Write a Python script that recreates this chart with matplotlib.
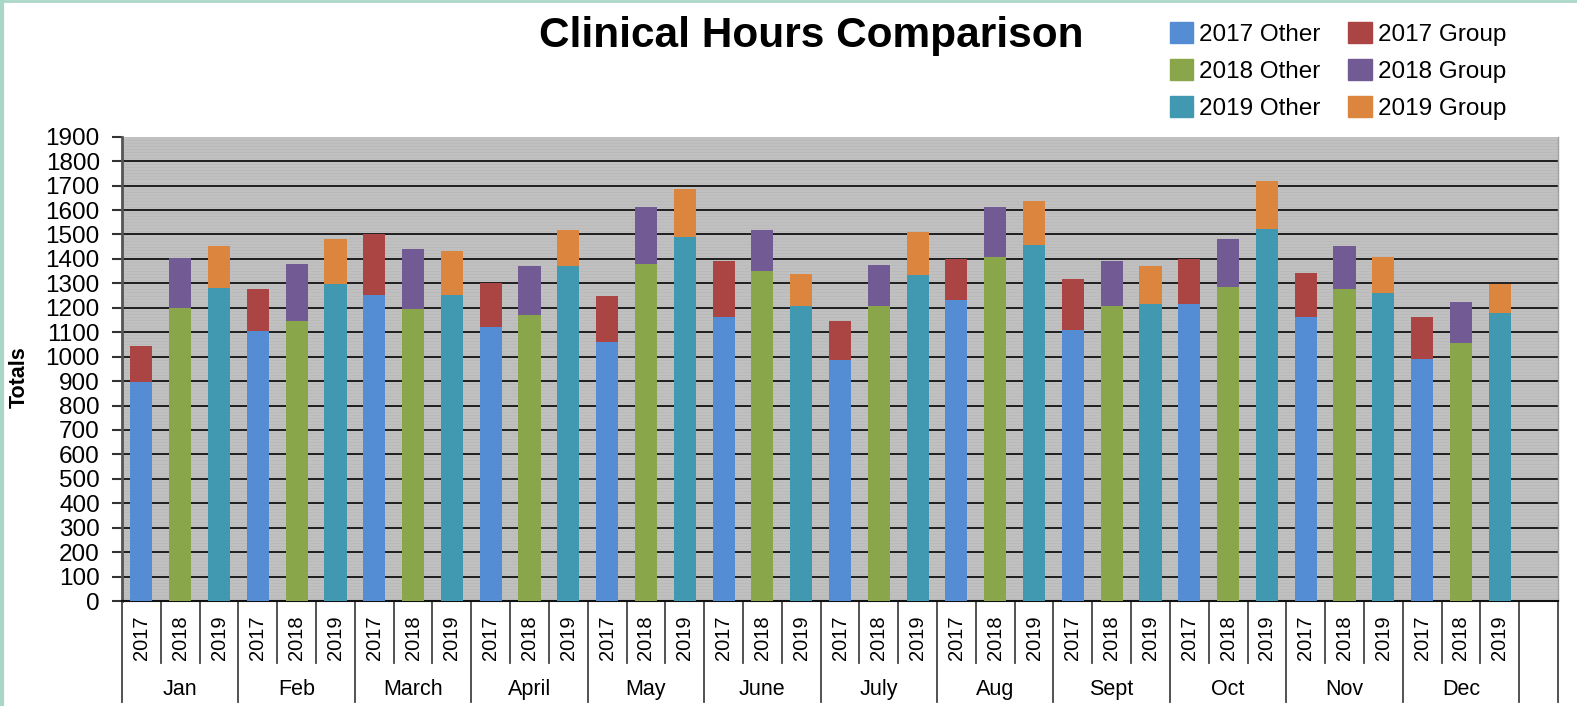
import matplotlib
matplotlib.use("Agg")
import matplotlib.pyplot as plt
from matplotlib.lines import Line2D
from matplotlib.patches import Patch
import numpy as np

plt.rcParams['font.family'] = ['Liberation Sans', 'DejaVu Sans']

months = ['Jan', 'Feb', 'March', 'April', 'May', 'June', 'July', 'Aug', 'Sept', 'Oct', 'Nov', 'Dec']
years = ['2017', '2018', '2019']

# "Other" hours per month, per year
other_2017 = [897, 1105, 1251, 1120, 1060, 1162, 986, 1230, 1110, 1214, 1162, 992]
other_2018 = [1200, 1147, 1194, 1169, 1378, 1349, 1208, 1406, 1208, 1284, 1276, 1055]
other_2019 = [1282, 1296, 1251, 1371, 1490, 1208, 1333, 1458, 1214, 1524, 1259, 1177]
# bar totals (other + group)
total_2017 = [1045, 1275, 1500, 1303, 1249, 1390, 1147, 1401, 1318, 1401, 1341, 1161]
total_2018 = [1402, 1379, 1439, 1371, 1613, 1518, 1376, 1613, 1390, 1480, 1451, 1222]
total_2019 = [1451, 1481, 1431, 1519, 1687, 1339, 1510, 1637, 1371, 1719, 1406, 1297]

other = [other_2017, other_2018, other_2019]
group = [list(np.array(t) - np.array(o)) for t, o in
         zip([total_2017, total_2018, total_2019], other)]

other_colors = ['#548dd4', '#8aa64b', '#4199b1']
group_colors = ['#aa4543', '#725a95', '#dc853e']

fig = plt.figure(figsize=(15.77, 7.06), dpi=100)
ax = fig.add_axes([122 / 1577, 105 / 706, (1558 - 122) / 1577, (601 - 136.7) / 706])
ax.set_facecolor('#c0c0c0')

nslots = 37
for yi in range(3):
    x = np.arange(12) * 3 + yi + 0.5
    ax.bar(x, other[yi], width=0.57, color=other_colors[yi], zorder=3)
    ax.bar(x, group[yi], width=0.57, bottom=other[yi], color=group_colors[yi], zorder=3)

ax.set_xlim(0, nslots)
ax.set_ylim(0, 1900)
ax.set_yticks(np.arange(0, 2000, 100))
ax.tick_params(axis='y', labelsize=17.5, length=7, width=1.5, pad=9, color='#333333')
ax.set_xticks([])

# background texture + grid
for v in np.arange(0, 1900, 12.5):
    ax.axhline(v, color='#b8b8b8', lw=0.5, zorder=1)
for v in np.arange(100, 1900, 100):
    ax.axhline(v, color='#1e1e1e', lw=1.4, zorder=2)

ax.spines['top'].set_visible(False)
ax.spines['left'].set_color('#555555')
ax.spines['left'].set_linewidth(2)
ax.spines['bottom'].set_color('#111111')
ax.spines['bottom'].set_linewidth(1.5)
ax.spines['right'].set_color('#a0a0a0')
ax.spines['right'].set_linewidth(1)

fig.text(19 / 1577, 1 - 377 / 706, 'Totals', rotation=90, ha='center', va='center',
         fontsize=15.5, fontweight='bold')

# category axis: years and months
tr = ax.get_xaxis_transform()
for i in range(nslots + 1):
    bottom = -0.218 if (i % 3 == 0 or i == nslots) else -0.1335
    ax.plot([i, i], [0, bottom], transform=tr, color='#444444', lw=1.3, clip_on=False)
for m in range(12):
    for yi in range(3):
        ax.text(m * 3 + yi + 0.5, -0.08, years[yi], transform=tr, rotation=90,
                ha='center', va='center', fontsize=14.5)
    ax.text(m * 3 + 1.5, -0.19, months[m], transform=tr, ha='center', va='center', fontsize=15.5)

fig.text(811 / 1577, 1 - 36 / 706, 'Clinical Hours Comparison', ha='center', va='center',
         fontsize=30.5, fontweight='bold')

handles = [Patch(color=c) for c in other_colors] + [Patch(color=c) for c in group_colors]
labels = ['2017 Other', '2018 Other', '2019 Other', '2017 Group', '2018 Group', '2019 Group']
fig.legend(handles, labels, ncol=2, loc='upper left', bbox_to_anchor=(1170 / 1577, 1 - 22 / 706),
           frameon=False, fontsize=17.5, handlelength=0.95, handleheight=0.95, handletextpad=0.25,
           labelspacing=0.55, columnspacing=1.15, borderaxespad=0, borderpad=0)

# frame remnants at left/top
fig.add_artist(Line2D([0.001, 0.001], [0, 1], color='#a9d6c8', lw=3, transform=fig.transFigure))
fig.add_artist(Line2D([0, 1], [0.999, 0.999], color='#a9d6c8', lw=2, transform=fig.transFigure))

fig.savefig('out.png', dpi=100)
